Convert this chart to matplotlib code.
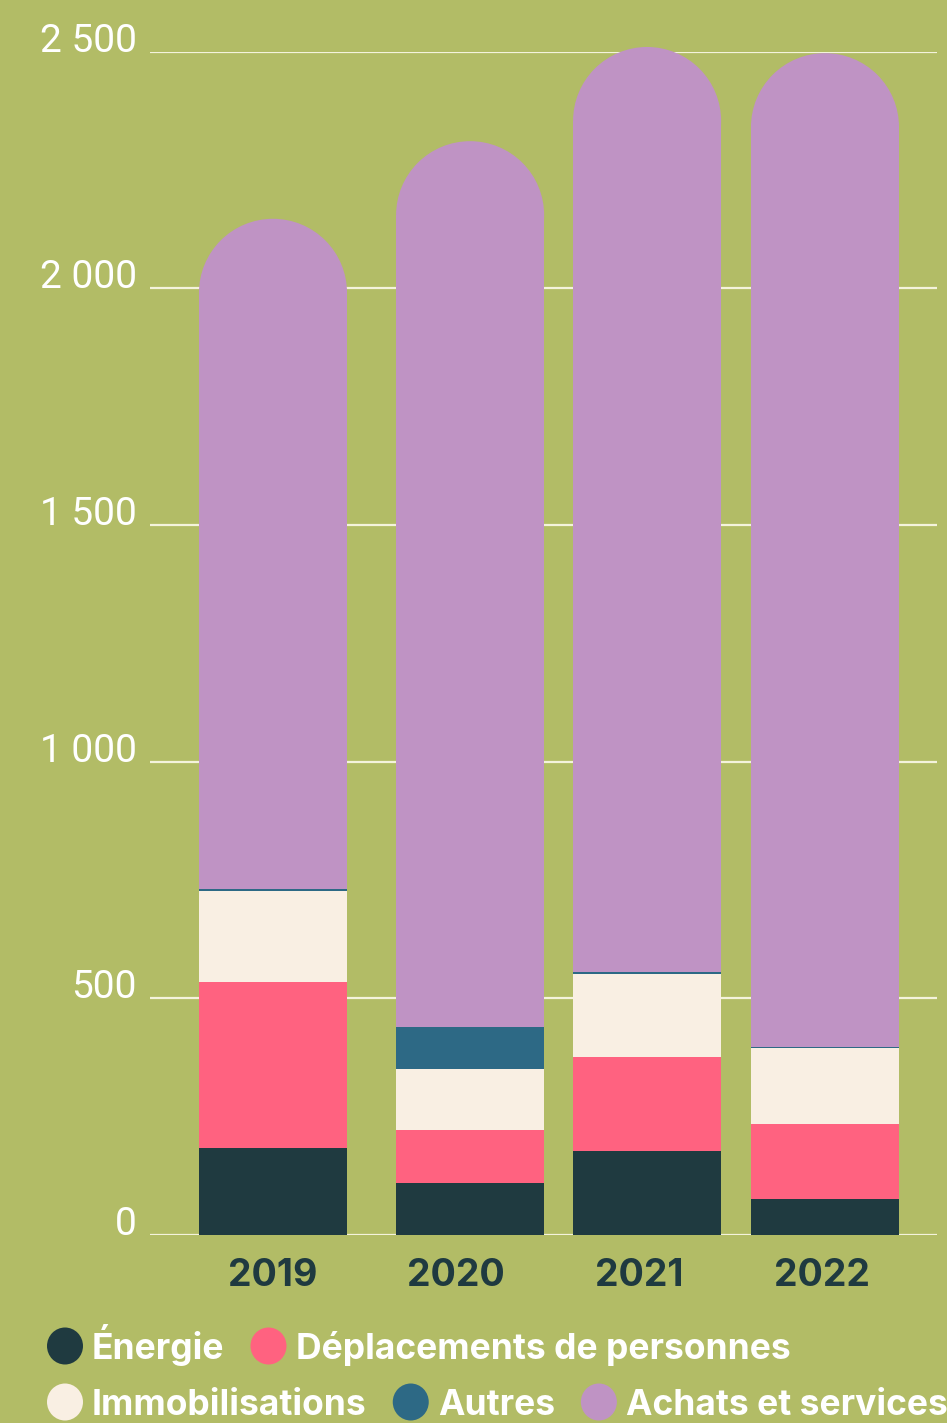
import numpy as np
import matplotlib.pyplot as plt
from matplotlib.patches import Ellipse

# --- data ---
years = ['2019', '2020', '2021', '2022']
energie = [184, 110, 177, 76]
deplacements = [350, 112, 199, 158]
immobilisations = [193, 129, 175, 161]
autres = [4, 88, 4, 2]
achats = [1416, 1872, 1955, 2100]

labels = ['Énergie', 'Déplacements de personnes', 'Immobilisations', 'Autres', 'Achats et services']
colors = ['#1f3a40', '#ff6280', '#f9efe3', '#2d6985', '#bf93c4']

bg = '#b2bc66'
W, H = 947, 1423
fig = plt.figure(figsize=(W / 100, H / 100), dpi=100, facecolor=bg)
ax = fig.add_axes([150 / W, (H - 1235) / H, 787 / W, 1183.3 / H])
ax.set_facecolor(bg)

bar_x = np.array([0, 1.077, 2.044, 3.016])
width = 0.809
ry = 156.4  # cap radius in data units (matches half the bar width on screen)

ax.set_ylim(0, 2500)
ax.set_xlim(-0.672, 3.628)

for y in range(0, 2501, 500):
    ax.axhline(y, color='#f4f3dc', lw=1.6, zorder=0)

series = [energie, deplacements, immobilisations, autres]
bottom = np.zeros(4)
for vals, c in zip(series, colors[:4]):
    ax.bar(bar_x, vals, width, bottom=bottom, color=c, zorder=2, linewidth=0)
    bottom += np.array(vals)

# purple segment with a rounded top
tops = bottom + np.array(achats)
ax.bar(bar_x, tops - ry - bottom, width, bottom=bottom, color=colors[4], zorder=2, linewidth=0)
for x, t in zip(bar_x, tops):
    ax.add_patch(Ellipse((x, t - ry), width, 2 * ry, color=colors[4], zorder=2, lw=0, clip_on=False))

for s in ax.spines.values():
    s.set_visible(False)
ax.set_xticks([])
ax.set_yticks([])

# y tick labels
for y in range(0, 2501, 500):
    txt = f'{y:,}'.replace(',', ' ')
    ax.text(-13 / 787, y, txt, transform=ax.get_yaxis_transform(), ha='right', va='baseline',
            color='white', fontsize=28, family='Roboto', fontweight='normal')

# year labels
for i, yr in enumerate(years):
    ax.text(i, -108, yr, ha='center', va='baseline', color='#1f3a40', fontsize=27,
            family='Inter', fontweight='bold')

# legend, laid out by hand in two rows
rows = [[0, 1], [2, 3, 4]]
row_y = [H - 1346, H - 1402]
base_y = [H - 1359, H - 1415]
fig.canvas.draw()
renderer = fig.canvas.get_renderer()
for row, yc, yb in zip(rows, row_y, base_y):
    x = 47
    for k in row:
        fig.add_artist(Ellipse((x + 18, yc), 36, 37, color=colors[k], lw=0,
                               transform=None))
        t = fig.text((x + 45) / W, yb / H, labels[k], color='white', fontsize=25.5,
                     family='Inter', fontweight='bold', ha='left', va='baseline')
        bb = t.get_window_extent(renderer)
        x = bb.x1 + 26

fig.savefig('out.png', dpi=100, facecolor=bg)
